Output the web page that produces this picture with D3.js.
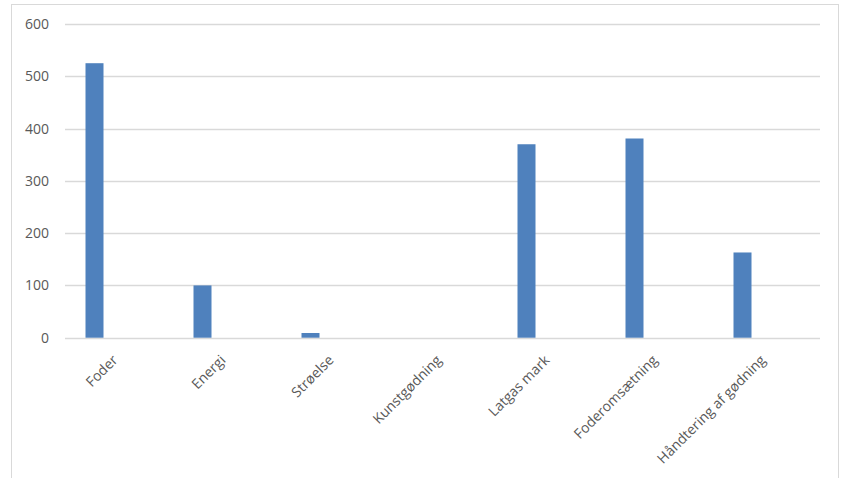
<!DOCTYPE html>
<html><head><meta charset="utf-8">
<script src="https://cdn.jsdelivr.net/npm/d3@7/dist/d3.min.js"></script>
<style>body{margin:0;background:#fff}svg{display:block}</style>
</head><body><svg id="c" width="850" height="478"></svg>
<script>
const categories = ["Foder","Energi","Strøelse","Kunstgødning","Latgas mark","Foderomsætning","Håndtering af gødning"];
const values = [525, 100, 9, 0, 370, 381, 163];
const yTicks = [0,100,200,300,400,500,600];

const svg = d3.select("#c");
const font = "'Open Sans', sans-serif";
svg.append("rect").attr("x",11.5).attr("y",4.5).attr("width",827).attr("height",490)
  .attr("fill","#fff").attr("stroke","#d9d9d9");

const y = d3.scaleLinear().domain([0,600]).range([337.7,24]);
const x = d3.scaleBand().domain(categories).range([40.5,796.5]);
const gridX0 = 65, gridX1 = 820, barW = 18;

const g = svg.append("g");
g.selectAll("line.grid").data(yTicks).join("line")
  .attr("x1",gridX0).attr("x2",gridX1)
  .attr("y1",d=>Math.round(y(d))+0.5).attr("y2",d=>Math.round(y(d))+0.5)
  .attr("stroke","#d9d9d9").attr("stroke-width",1.3);

g.selectAll("text.yl").data(yTicks).join("text")
  .attr("x",49).attr("y",d=>y(d)+5)
  .attr("text-anchor","end").attr("font-family",font).attr("font-size",14)
  .attr("fill","#595959").text(d=>d);

g.selectAll("rect.bar").data(categories).join("rect")
  .attr("x",d=>x(d)+x.bandwidth()/2-barW/2)
  .attr("width",barW)
  .attr("y",(d,i)=>y(values[i]))
  .attr("height",(d,i)=>y(0)-y(values[i]))
  .attr("fill","#4f81bd");

g.selectAll("text.xl").data(categories).join("text")
  .attr("transform",d=>`translate(${x(d)+x.bandwidth()/2+24},${361}) rotate(-45)`)
  .attr("text-anchor","end").attr("font-family",font).attr("font-size",14)
  .attr("fill","#595959").text(d=>d);
</script></body></html>
